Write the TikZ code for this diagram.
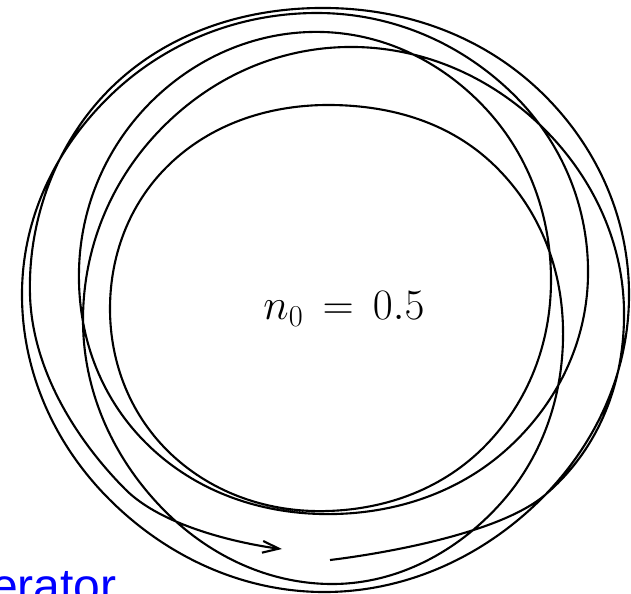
\RequirePackage{fix-cm}
\documentclass[tikz,border=0pt]{standalone}
\usepackage{fontspec}
\usepackage{amsmath}
\usepackage{tikz}
\usetikzlibrary{arrows.meta}
\newfontfamily\genfont{Liberation Sans}

\begin{document}
\begin{tikzpicture}[
		x=0.03cm, y=-0.03cm,
		% --- ESTILOS ---
		orbit_line/.style={
			draw=black,
			line width=1.8pt,
			line join=round,
			-{Straight Barb[length=14pt, width=10pt]}
		},
		index_label/.style={
			anchor=base,
			inner sep=0pt,
			font=\fontsize{37}{43}\selectfont
		},
		cut_caption/.style={
			anchor=base west,
			inner sep=0pt,
			text=blue,
			font=\genfont\fontsize{41}{48}\selectfont
		}
		]
		
		\useasboundingbox (0,0) rectangle (631,594);
		\clip (0,0) rectangle (631,594);
		
		% --- ORBITA (5 vueltas, un punto cada 45 grados) ---
		\draw [orbit_line] plot[smooth, tension=0.68] coordinates {
			(330,560) (545,495) (624,310) (539,124) (347,47) (160,130) (83,320) (160,506)
			(334,584) (501,503) (563,328) (494,165) (332,105) (173,161) (110,308) (172,455)
			(328,511) (486,445) (551,281) (487,110) (323,32) (153,100) (79,270) (145,442)
			(321,514) (506,450) (588,276) (512,93) (317,13) (113,93) (22,292) (109,499)
			(321,592) (536,504) (629,298) (541,92) (328,8) (113,86) (30,295) (125,489)
			(282,549)
		};
		
		% --- INDICE DE CAMPO ---
		\node (index) [index_label] at (344,320) {$n_0 \,=\, 0.5$};
		
		% --- TEXTO CORTADO ---
		\node (gen) [cut_caption] at (-9,602) {erator};
		
	\end{tikzpicture}
\end{document}
